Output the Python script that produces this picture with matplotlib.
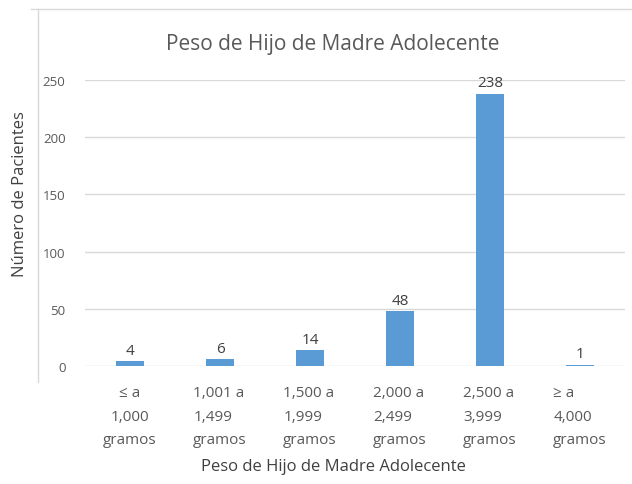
import matplotlib.pyplot as plt
from matplotlib.lines import Line2D

categorias = ['≤ a\n1,000\ngramos', '1,001 a\n1,499\ngramos', '1,500 a\n1,999\ngramos',
              '2,000 a\n2,499\ngramos', '2,500 a\n3,999\ngramos', '≥ a\n4,000\ngramos']
pacientes = [4, 6, 14, 48, 238, 1]
yticks = [0, 50, 100, 150, 200, 250]

gris = '#595959'
azul = '#5b9bd5'
plt.rcParams['font.family'] = ['Open Sans', 'DejaVu Sans']

fig = plt.figure(figsize=(6.32, 4.85), dpi=100)
ax = fig.add_axes([0.1345, 0.2433, 0.8545, 0.5897])

x = range(len(categorias))
barras = ax.bar(x, pacientes, width=0.31, color=azul, zorder=3)
for b, v in zip(barras, pacientes):
    ax.text(b.get_x() + b.get_width() / 2, v + 3, str(v), ha='center', va='bottom',
            fontsize=11, color='#404040')

ax.set_xlim(-0.5, len(categorias) - 0.5)
ax.set_ylim(0, 250)
ax.set_yticks(yticks)
ax.set_xticks(list(x))
ax.set_xticklabels(categorias, fontsize=11, color=gris, linespacing=1.75)
for i, t in enumerate(ax.get_xticklabels()):
    t.set_horizontalalignment('center')
    t.set_multialignment('center' if i == 0 else 'left')
ax.tick_params(axis='x', length=0, pad=14)
ax.tick_params(axis='y', length=0, pad=14, labelsize=9.5, labelcolor=gris)
ax.grid(axis='y', color='#d9d9d9', linewidth=1, zorder=0)
for s in ax.spines.values():
    s.set_visible(False)

fig.text(0.527, 0.908, 'Peso de Hijo de Madre Adolecente', ha='center', va='center',
         fontsize=15, color=gris)
fig.text(0.032, 0.60, 'Número de Pacientes', ha='center', va='center', rotation=90,
         fontsize=12, color='#404040')
fig.text(0.528, 0.037, 'Peso de Hijo de Madre Adolecente', ha='center', va='center',
         fontsize=12, color='#404040')

# marco del gráfico
fig.add_artist(Line2D([38 / 632, 38 / 632], [1 - 10 / 485, 1 - 383 / 485],
                      transform=fig.transFigure, color='#d9d9d9', linewidth=1))
fig.add_artist(Line2D([31 / 632, 1], [1 - 10 / 485, 1 - 10 / 485],
                      transform=fig.transFigure, color='#d9d9d9', linewidth=1))

fig.savefig('out.png', dpi=100)
